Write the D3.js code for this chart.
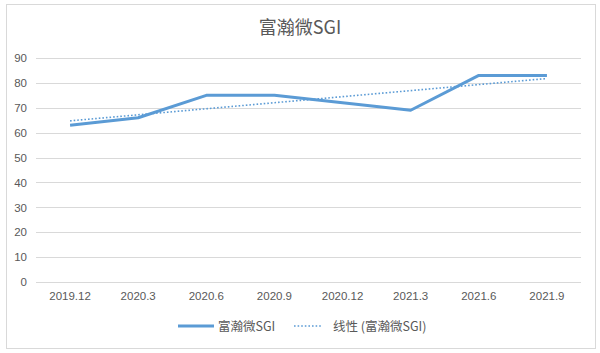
<!DOCTYPE html>
<html lang="zh-CN">
<head>
    <meta charset="UTF-8">
    <title>富瀚微SGI</title>
    <script src="https://d3js.org/d3.v7.min.js"></script>
    <style>
        body { margin: 0; background: #fff; }
        svg { font-family: "Noto Sans CJK SC", "Noto Sans", sans-serif; }
        .axis text { fill: #595959; font-size: 11.5px; }
        .grid line { stroke: #d9d9d9; }
    </style>
</head>
<body>
    <svg width="600" height="353"></svg>
    <script>
        // 数据
        const categories = ["2019.12", "2020.3", "2020.6", "2020.9", "2020.12", "2021.3", "2021.6", "2021.9"];
        const sgiValues = [63, 66, 75, 75, 72, 69, 83, 83];
        const yTicks = [0, 10, 20, 30, 40, 50, 60, 70, 80, 90];
        const seriesName = "富瀚微SGI";
        const trendName = "线性 (富瀚微SGI)";

        const svg = d3.select("svg");
        const color = "#5b9bd5";

        // 外框
        svg.append("rect")
            .attr("x", 6.5).attr("y", 4.5)
            .attr("width", 589).attr("height", 344)
            .attr("fill", "#fff").attr("stroke", "#d9d9d9");

        const margin = {left: 36, right: 19, top: 58, bottom: 71};
        const width = 600 - margin.left - margin.right;
        const height = 353 - margin.top - margin.bottom;

        const g = svg.append("g")
            .attr("transform", "translate(" + margin.left + "," + margin.top + ")");

        const x = d3.scaleBand().domain(categories).range([0, width]);
        const y = d3.scaleLinear().domain([0, 90]).range([height, 0]);

        // 网格线
        g.append("g").attr("class", "grid")
            .selectAll("line").data(yTicks).enter().append("line")
            .attr("x1", 0).attr("x2", width)
            .attr("y1", d => Math.round(y(d)) + 0.5)
            .attr("y2", d => Math.round(y(d)) + 0.5);

        // Y轴
        const yAxis = g.append("g").attr("class", "axis")
            .call(d3.axisLeft(y).tickValues(yTicks).tickSize(0).tickPadding(9));
        yAxis.select(".domain").remove();

        // X轴
        const xAxis = g.append("g").attr("class", "axis")
            .attr("transform", "translate(0," + height + ")")
            .call(d3.axisBottom(x).tickSize(0).tickPadding(10));
        xAxis.select(".domain").remove();

        // 线性趋势线 (最小二乘)
        const n = sgiValues.length;
        const mx = d3.mean(d3.range(n));
        const my = d3.mean(sgiValues);
        const slope = d3.sum(sgiValues, (v, i) => (i - mx) * (v - my)) / d3.sum(d3.range(n), i => (i - mx) * (i - mx));
        const intercept = my - slope * mx;
        const trend = [0, n - 1].map(i => ({cat: categories[i], v: intercept + slope * i}));

        const cx = c => x(c) + x.bandwidth() / 2;

        g.append("path")
            .datum(trend)
            .attr("fill", "none")
            .attr("stroke", color)
            .attr("stroke-width", 1.6)
            .attr("stroke-dasharray", "1.6,2")
            .attr("d", d3.line().x(d => cx(d.cat)).y(d => y(d.v)));

        // 主线
        g.append("path")
            .datum(sgiValues)
            .attr("fill", "none")
            .attr("stroke", color)
            .attr("stroke-width", 3)
            .attr("stroke-linejoin", "round")
            .attr("d", d3.line().x((d, i) => cx(categories[i])).y(d => y(d)));

        // 标题
        svg.append("text")
            .attr("x", 300).attr("y", 34)
            .attr("text-anchor", "middle")
            .attr("fill", "#595959")
            .style("font-size", "18px")
            .text(seriesName);

        // 图例
        const legend = svg.append("g").attr("transform", "translate(0,326)");
        legend.append("line")
            .attr("x1", 178).attr("x2", 214)
            .attr("stroke", color).attr("stroke-width", 3);
        legend.append("text")
            .attr("x", 218).attr("y", 4.5)
            .attr("fill", "#595959").style("font-size", "12.5px")
            .text(seriesName);
        legend.append("line")
            .attr("x1", 294).attr("x2", 322)
            .attr("stroke", color).attr("stroke-width", 1.6)
            .attr("stroke-dasharray", "1.6,2");
        legend.append("text")
            .attr("x", 333).attr("y", 4.5)
            .attr("fill", "#595959").style("font-size", "12.5px")
            .text(trendName);
    </script>
</body>
</html>
